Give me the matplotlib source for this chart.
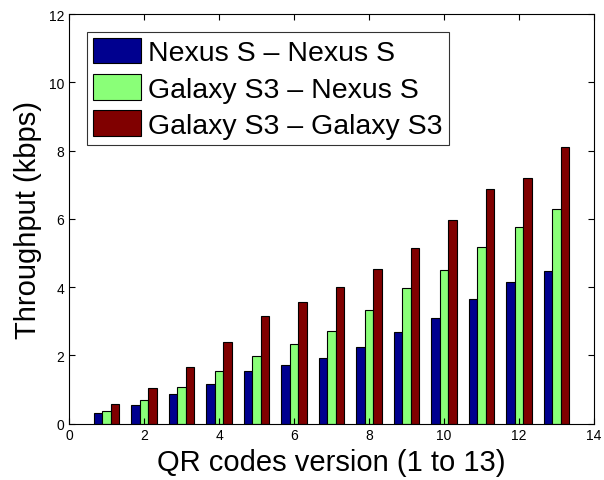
import matplotlib
matplotlib.use("Agg")
import matplotlib.pyplot as plt
import numpy as np

plt.rcParams['font.family'] = ['Liberation Sans', 'DejaVu Sans']

versions = [1, 2, 3, 4, 5, 6, 7, 8, 9, 10, 11, 12, 13]
nexus_nexus = [0.31, 0.55, 0.86, 1.17, 1.53, 1.71, 1.92, 2.24, 2.67, 3.09, 3.66, 4.15, 4.47]
galaxy_nexus = [0.38, 0.68, 1.07, 1.53, 1.99, 2.33, 2.71, 3.34, 3.97, 4.51, 5.18, 5.77, 6.28]
galaxy_galaxy = [0.57, 1.03, 1.67, 2.38, 3.16, 3.56, 4.01, 4.54, 5.15, 5.96, 6.87, 7.19, 8.10]
labels = ['Nexus S – Nexus S', 'Galaxy S3 – Nexus S', 'Galaxy S3 – Galaxy S3']
colors = ['#00008F', '#8AFF78', '#800000']

fig = plt.figure(figsize=(6.04, 4.81), dpi=100)
ax = fig.add_axes([69/604, 1 - 424.5/481, (594-69)/604, (424.5-15)/481])

x = np.array(versions, dtype=float)
w = 0.23
for i, (vals, lab, c) in enumerate(zip([nexus_nexus, galaxy_nexus, galaxy_galaxy], labels, colors)):
    ax.bar(x + (i - 1) * w, vals, width=w, color=c, edgecolor='black', linewidth=0.8, label=lab)

ax.set_xlim(0, 14)
ax.set_ylim(0, 12)
ax.set_xticks(range(0, 15, 2))
ax.set_yticks(range(0, 13, 2))
ax.tick_params(direction='in', top=True, right=True, labelsize=10, length=4)
ax.set_xlabel('QR codes version (1 to 13)', fontsize=21, labelpad=4)
ax.set_ylabel('Throughput (kbps)', fontsize=21, labelpad=5)

leg = ax.legend(loc='upper left', fontsize=20.5, frameon=True, fancybox=False,
                edgecolor='black', handlelength=1.7, handleheight=1.0,
                labelspacing=0.27, handletextpad=0.25, borderpad=0.22,
                borderaxespad=0.62)
leg.get_frame().set_linewidth(0.8)

fig.savefig('out.png', dpi=100)
